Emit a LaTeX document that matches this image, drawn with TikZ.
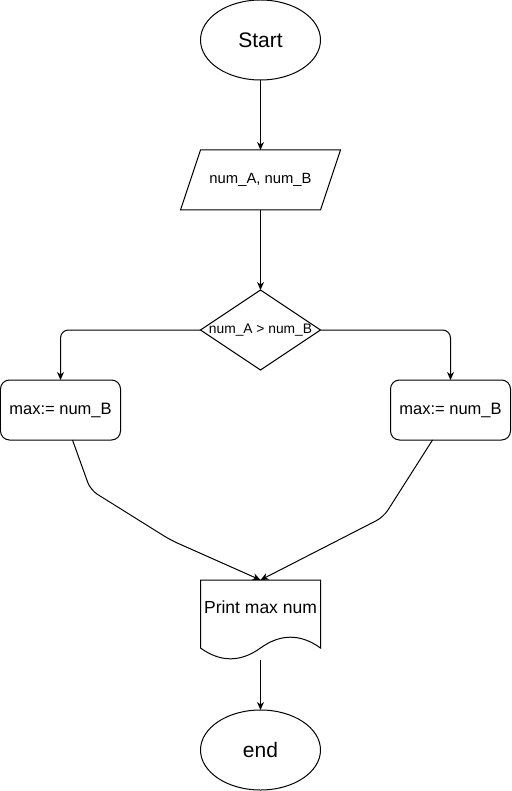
\documentclass[tikz,border=0pt]{standalone}
\usepackage{fontspec}
\setmainfont{Liberation Sans}
\usetikzlibrary{arrows.meta,shapes.geometric}
\begin{document}
\begin{tikzpicture}[x=1pt,y=-1pt,
  line width=1pt,
  every node/.style={inner sep=0pt, outer sep=0pt},
  terminal/.style={draw, ellipse, minimum width=120pt, minimum height=80pt,
    font=\fontsize{21}{24}\selectfont},
  procbox/.style={draw, rounded corners=9pt, minimum width=120pt, minimum height=60pt,
    font=\fontsize{16.5}{19}\selectfont},
  frame/.style={minimum width=120pt, minimum height=80pt},
  flow/.style={-{Stealth[length=8pt,width=7pt,inset=2.5pt]}}]

\useasboundingbox (-0.5,0) rectangle (510.5,791);

% start
\node[terminal] (start) at (260,40) {Start};

% input (parallelogram)
\node[minimum width=140pt, minimum height=60pt] (io) at (260,180) {};
\draw (200,150) -- (340,150) -- (320,210) -- (180,210) -- cycle;
\node[font=\fontsize{14.8}{17}\selectfont] (iotxt) at (260,180) {num\_A, num\_B};

% decision (diamond)
\node[minimum width=120pt, minimum height=80pt] (cond) at (260,330) {};
\draw (cond.north) -- (cond.east) -- (cond.south) -- (cond.west) -- cycle;
\node[font=\fontsize{13.8}{16}\selectfont] (condtxt) at (260,330) {num\_A > num\_B};

% assignments
\node[procbox] (left) at (60,410) {max:= num\_B};
\node[procbox] (right) at (450,410) {max:= num\_B};

% output (document shape)
\node[frame] (print) at (260,620) {};
\draw (200,580) -- (320,580) -- (320,648)
  .. controls (300,633.6) and (280,633.6) .. (260,648)
  .. controls (240,662.4) and (220,662.4) .. (200,648) -- cycle;
\node[font=\fontsize{17.5}{20}\selectfont] (printtxt) at (260,607) {Print max num};

% end
\node[terminal] (end) at (260,750) {end};

% connectors
\draw[flow] (start.south) -- (io.north);
\draw[flow] (io.south) -- (cond.north);
\draw[flow, rounded corners=8pt] (cond.west) -| (left.north);
\draw[flow, rounded corners=8pt] (cond.east) -| (right.north);
\draw[flow, rounded corners=8pt] ([xshift=12pt]left.south) -- (90,490) -- (170,540) -- (print.north);
\draw[flow, rounded corners=8pt] ([xshift=-18pt]right.south) -- (383,517) -- (print.north);
\draw[flow] (print.south) -- (end.north);
\end{tikzpicture}
\end{document}
